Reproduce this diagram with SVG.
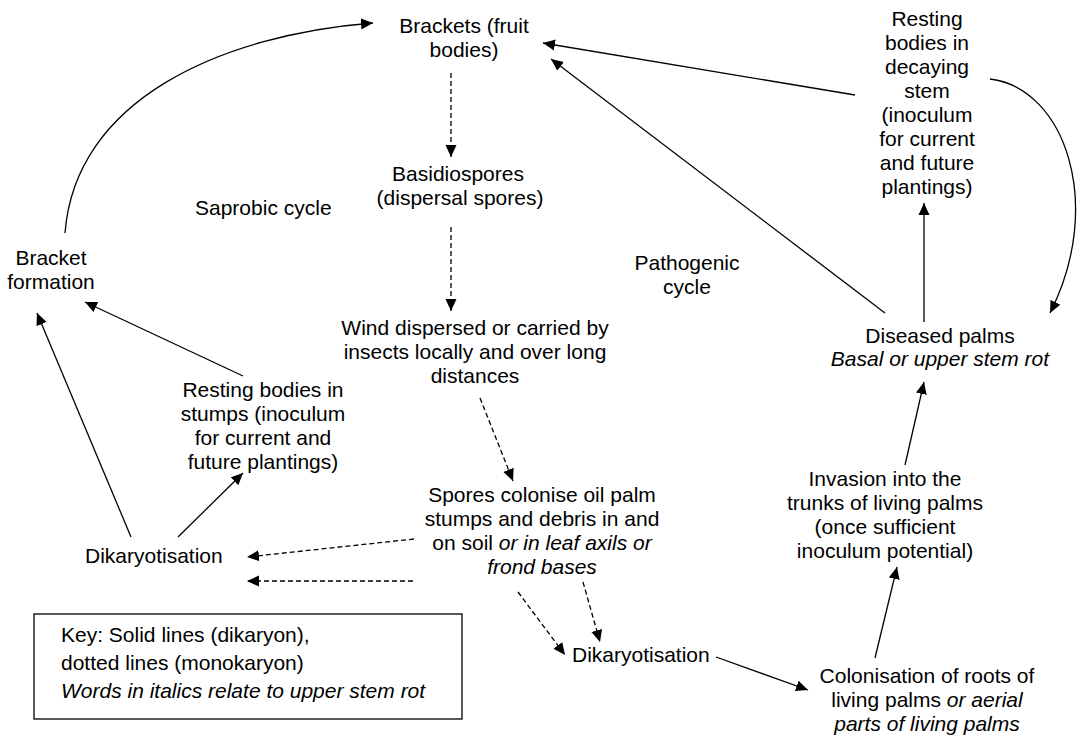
<svg xmlns="http://www.w3.org/2000/svg" width="1078" height="736" viewBox="0 0 1078 736">
<defs>
<style>
text{font-family:"Liberation Sans",Arial,Helvetica,sans-serif;font-size:21px;fill:#000}
.c{text-anchor:middle}
.i{font-style:italic}
.s{fill:none;stroke:#000;stroke-width:1.3}
.d{stroke-dasharray:5,3}
.box{fill:none;stroke:#000;stroke-width:1.3}
</style>
<marker id="ah" viewBox="0 0 12 12" markerWidth="12" markerHeight="12" refX="12" refY="6" orient="auto" markerUnits="userSpaceOnUse"><path d="M0,0.5 L12,6 L0,11.5 z" fill="#000" stroke="none"/></marker>
</defs>
<rect width="1078" height="736" fill="#fff"/>

<g id="brackets"><text class="c" x="464" y="33">Brackets (fruit</text><text class="c" x="464" y="57">bodies)</text></g>
<g id="basidiospores"><text class="c" x="458" y="181">Basidiospores</text><text class="c" x="460" y="205">(dispersal spores)</text></g>
<g id="saprobic"><text x="195" y="215">Saprobic cycle</text></g>
<g id="bracket-formation"><text class="c" x="51" y="265">Bracket</text><text class="c" x="51" y="289">formation</text></g>
<g id="pathogenic"><text class="c" x="687" y="270">Pathogenic</text><text class="c" x="687" y="294">cycle</text></g>
<g id="wind"><text class="c" x="475" y="335">Wind dispersed or carried by</text><text class="c" x="475" y="359">insects locally and over long</text><text class="c" x="475" y="383">distances</text></g>
<g id="resting-stumps"><text class="c" x="263" y="397">Resting bodies in</text><text class="c" x="263" y="421">stumps (inoculum</text><text class="c" x="263" y="445">for current and</text><text class="c" x="263" y="469">future plantings)</text></g>
<g id="resting-stem"><text class="c" x="927" y="26">Resting</text><text class="c" x="927" y="50">bodies in</text><text class="c" x="927" y="74">decaying</text><text class="c" x="927" y="98">stem</text><text class="c" x="927" y="122">(inoculum</text><text class="c" x="927" y="146">for current</text><text class="c" x="927" y="170">and future</text><text class="c" x="927" y="194">plantings)</text></g>
<g id="diseased"><text class="c" x="940" y="343">Diseased palms</text><text class="c i" x="940" y="366">Basal or upper stem rot</text></g>
<g id="invasion"><text class="c" x="885" y="486">Invasion into the</text><text class="c" x="885" y="510">trunks of living palms</text><text class="c" x="885" y="534">(once sufficient</text><text class="c" x="885" y="558">inoculum potential)</text></g>
<g id="spores-colonise"><text class="c" x="542" y="502">Spores colonise oil palm</text><text class="c" x="542" y="526">stumps and debris in and</text><text class="c" x="542" y="550">on soil <tspan class="i">or in leaf axils or</tspan></text><text class="c i" x="542" y="574">frond bases</text></g>
<g id="dikaryotisation-left"><text x="85" y="563">Dikaryotisation</text></g>
<g id="dikaryotisation-mid"><text x="572" y="662">Dikaryotisation</text></g>
<g id="colonisation"><text class="c" x="927" y="683">Colonisation of roots of</text><text class="c" x="927" y="707">living palms <tspan class="i">or aerial</tspan></text><text class="c i" x="927" y="731">parts of living palms</text></g>
<g id="key"><rect class="box" x="34" y="614" width="428" height="105"/><text x="61" y="642">Key: Solid lines (dikaryon),</text><text x="61" y="670">dotted lines (monokaryon)</text><text class="i" x="61" y="698">Words in italics relate to upper stem rot</text></g>

<g id="connectors">
<path class="s" d="M65,233 C75,100 220,35 373,23" marker-end="url(#ah)"/>
<path class="s" d="M855,95 L543,43" marker-end="url(#ah)"/>
<path class="s" d="M885,313 L551,59" marker-end="url(#ah)"/>
<path class="s" d="M990,79 C1065,88 1105,205 1050,313" marker-end="url(#ah)"/>
<path class="s" d="M905,465 L924,382" marker-end="url(#ah)"/>
<path class="s" d="M924,322 L924,203" marker-end="url(#ah)"/>
<path class="s" d="M875,658 L897,567" marker-end="url(#ah)"/>
<path class="s" d="M716,657 L808,690" marker-end="url(#ah)"/>
<path class="s d" d="M518,592 L565,655" marker-end="url(#ah)"/>
<path class="s d" d="M583,582 L600,642" marker-end="url(#ah)"/>
<path class="s d" d="M414,539 L247,557" marker-end="url(#ah)"/>
<path class="s d" d="M413,581 L247,581" marker-end="url(#ah)"/>
<path class="s" d="M131,537 L37,313" marker-end="url(#ah)"/>
<path class="s" d="M178,537 L243,473" marker-end="url(#ah)"/>
<path class="s" d="M243,376 L85,302" marker-end="url(#ah)"/>
<path class="s d" d="M451,73 L451,157" marker-end="url(#ah)"/>
<path class="s d" d="M451,227 L451,311" marker-end="url(#ah)"/>
<path class="s d" d="M480,398 L513,481" marker-end="url(#ah)"/>
</g>
</svg>
